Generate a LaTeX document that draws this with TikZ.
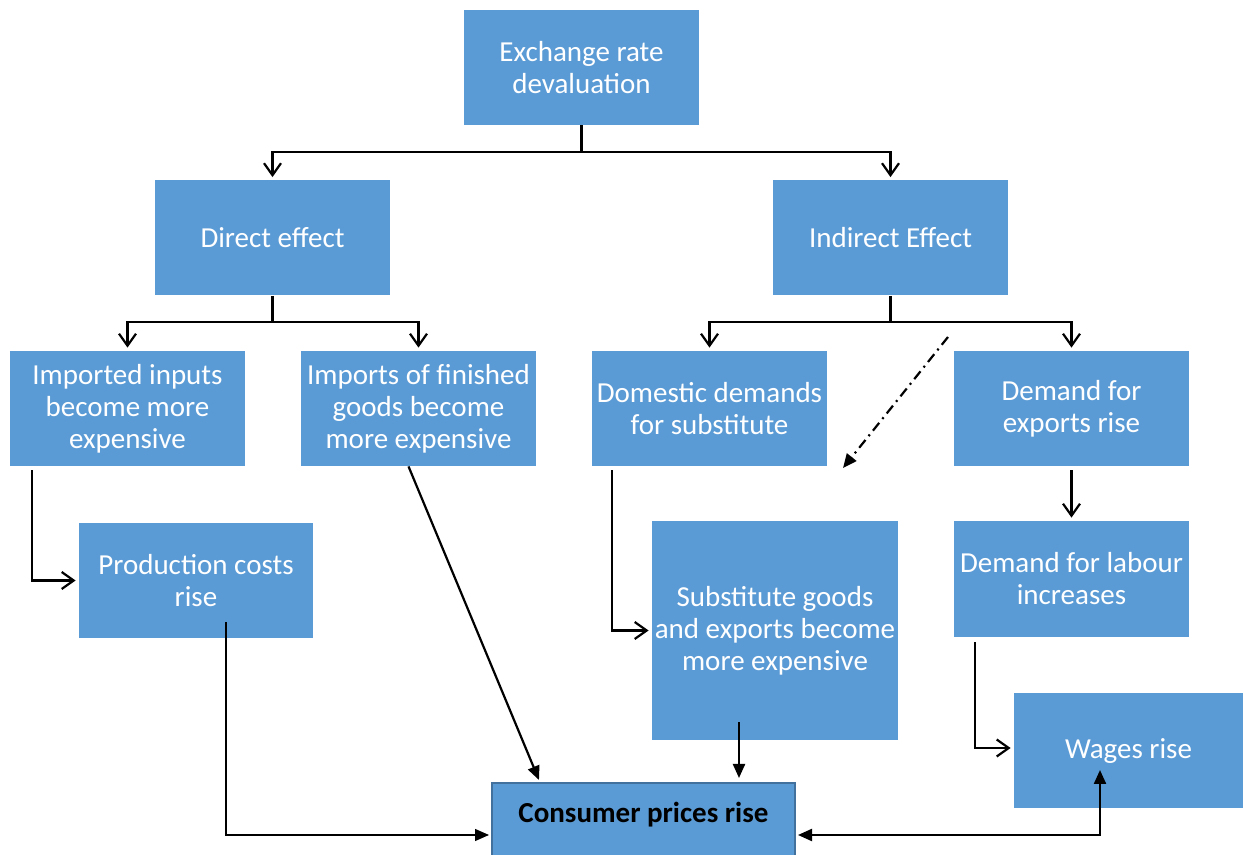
\documentclass[tikz,border=0pt]{standalone}
\usepackage{fontspec}
\setmainfont{Carlito}
\usetikzlibrary{arrows.meta,positioning,calc}
\definecolor{erblue}{HTML}{5B9BD5}
\definecolor{eredge}{HTML}{41719C}

\begin{document}
\begin{tikzpicture}[
  x=0.5pt, y=-0.5pt,
  box/.style={fill=erblue, draw=none, text=white, align=center, inner sep=0pt,
              font=\fontsize{14.5pt}{16pt}\selectfont,
              minimum width=117.5pt, minimum height=57.5pt},
  result/.style={box, draw=eredge, line width=1pt, text=black,
                 font=\fontsize{14.5pt}{16pt}\selectfont\bfseries,
                 minimum width=151.5pt, minimum height=0pt,
                 text height=20pt, text depth=32pt},
  branch/.style={-{Straight Barb[length=6pt,width=8.5pt]}, line width=1.1pt, shorten >=1.5pt},
  solid/.style={-{Triangle[length=7pt,width=6pt]}, line width=1.1pt},
  thin/.style={-{Triangle[length=7pt,width=6pt]}, line width=0.6pt},
  dashdot/.style={-{Triangle[length=7pt,width=6pt]}, line width=1.1pt,
                  dash pattern=on 5pt off 2.5pt on 1pt off 2.5pt},
]
\useasboundingbox (0,0) rectangle (1244,855);

%% ---- Top level ----
\node[box] (exch) at (581.5,67.5) {Exchange rate\\devaluation};
\node[box] (direct) at (272.5,238) {Direct effect};
\node[box] (indirect) at (890.5,238) {Indirect Effect};

%% ---- Second level ----
\node[box] (inputs) at (127.5,408.5) {Imported inputs\\become more\\expensive};
\node[box] (finished) at (418.5,408.5) {Imports of finished\\goods become\\more expensive};
\node[box] (domestic) at (709.5,408.5) {Domestic demands\\for substitute};
\node[box] (exports) at (1071.5,408.5) {Demand for\\exports rise};

%% ---- Third level ----
\node[box, minimum width=117pt] (prodcost) at (196,580.5) {Production costs\\rise};
\node[box, minimum width=123pt, minimum height=109.5pt] (subst) at (775,630.5)
  {Substitute goods\\and exports become\\more expensive};
\node[box, minimum height=58pt] (labour) at (1071.5,579) {Demand for labour\\increases};
\node[box, minimum width=114.5pt] (wages) at (1128.5,751) {Wages rise};
\node[result, anchor=north] (consumer) at (643.5,782) {Consumer prices rise};

%% ---- Branches ----
\coordinate (j1) at (581.5,152);
\coordinate (j2) at (272.5,322);
\coordinate (j3) at (890.5,322);
\draw[line width=1.1pt] (exch.south) -- (j1);
\draw[branch] (j1) -| (direct.north);
\draw[branch] (j1) -| (indirect.north);
\draw[line width=1.1pt] (direct.south) -- (j2);
\draw[branch] (j2) -| (inputs.north);
\draw[branch] (j2) -| (finished.north);
\draw[line width=1.1pt] (indirect.south) -- (j3);
\draw[branch] (j3) -| (domestic.north);
\draw[branch] (j3) -| (exports.north);

%% ---- Chains ----
\draw[branch] ($(inputs.south west)+(22,4)$) |- (prodcost.west);
\draw[branch] ($(domestic.south west)+(20,4)$) |- (subst.west);
\draw[branch] ($(exports.south)+(0,4)$) -- (labour.north);
\draw[branch] ($(labour.south west)+(21,5)$) |- ($(wages.west)+(0,-3)$);

%% ---- Indirect dash-dot ----
\coordinate (dd1) at (948,337);
\coordinate (dd2) at (843,468);
\draw[dashdot] (dd1) -- (dd2);

%% ---- Into consumer prices ----
\coordinate (fin1) at ($(finished.south)+(-10,0)$);
\draw[solid] (fin1) -- ($(consumer.north west)+(48,-2)$);
\coordinate (pc1) at ($(prodcost.south)+(30,-16)$);
\draw[thin] (pc1) |- ($(consumer.west)+(-2,0)$);
\coordinate (sb1) at ($(subst.south)+(-36,-18)$);
\draw[solid] (sb1) -- ($(sb1 |- consumer.north)+(0,-4)$);
\coordinate (wg1) at (1100,770);
\draw[{Triangle[length=7pt,width=6pt]}-{Triangle[length=7pt,width=6pt]}, line width=1.1pt]
  ($(consumer.east)+(2,0)$) -| (wg1);

\end{tikzpicture}
\end{document}
